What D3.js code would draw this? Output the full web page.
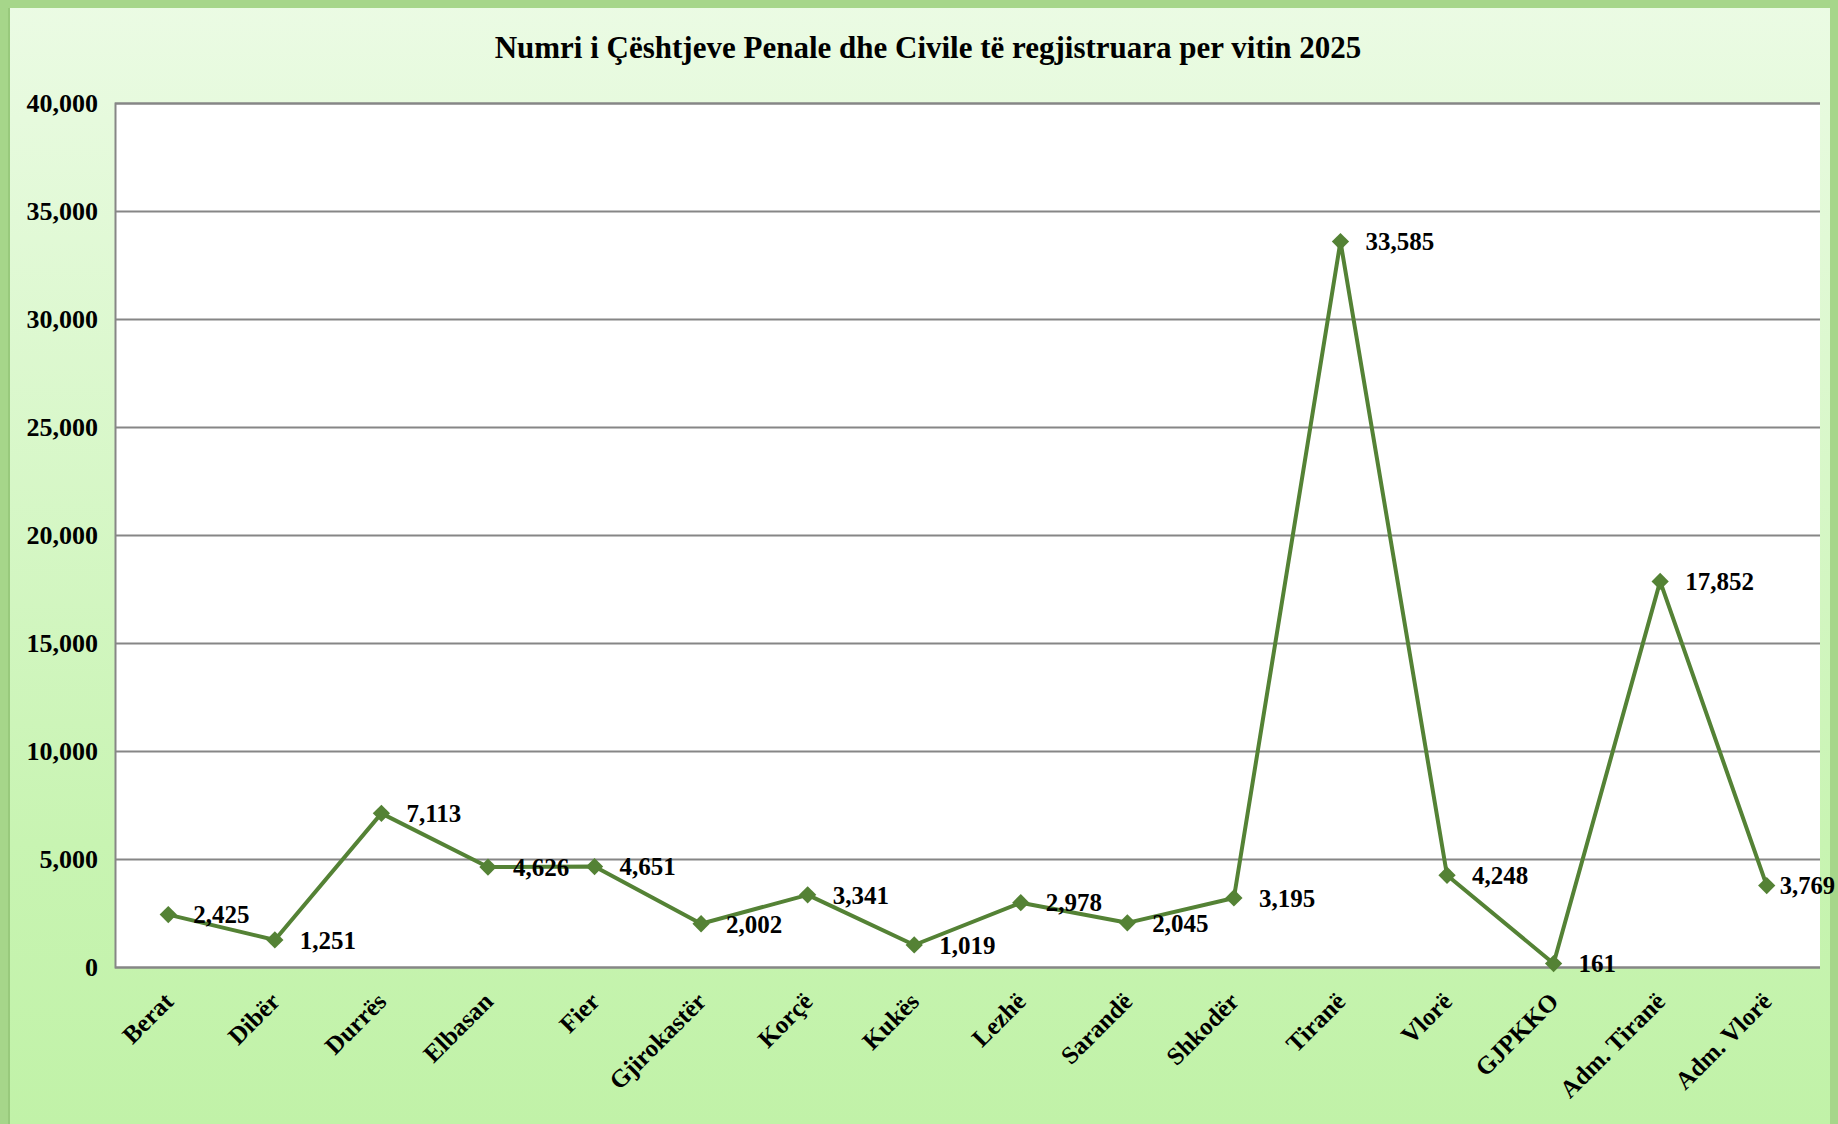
<!DOCTYPE html>
<html><head><meta charset="utf-8">
<script src="https://cdn.jsdelivr.net/npm/d3@7"></script>
<style>html,body{margin:0;padding:0;background:#fff;}svg{display:block;}</style>
</head><body>
<svg id="c" width="1838" height="1124"></svg>
<script>
const categories = ["Berat","Dibër","Durrës","Elbasan","Fier","Gjirokastër","Korçë","Kukës","Lezhë","Sarandë","Shkodër","Tiranë","Vlorë","GJPKKO","Adm. Tiranë","Adm. Vlorë"];
const values = [2425,1251,7113,4626,4651,2002,3341,1019,2978,2045,3195,33585,4248,161,17852,3769];
const yTicks = [0,5000,10000,15000,20000,25000,30000,35000,40000];
const title = "Numri i Çështjeve Penale dhe Civile të regjistruara per vitin 2025";

const W = 1838, H = 1124;
const m = {left:115, right:1820, top:103, bottom:967};
const svg = d3.select("#c");
const font = "'Liberation Serif', 'Times New Roman', serif";

const defs = svg.append("defs");
const g = defs.append("linearGradient").attr("id","bg").attr("x1",0).attr("y1",0).attr("x2",0).attr("y2",1);
g.append("stop").attr("offset","0").attr("stop-color","#ebfbe4");
g.append("stop").attr("offset","0.75").attr("stop-color","#c8f4b2");
g.append("stop").attr("offset","1").attr("stop-color","#c1f2a8");

svg.append("rect").attr("x",0).attr("y",0).attr("width",W).attr("height",H).attr("fill","url(#bg)");
svg.append("rect").attr("x",4).attr("y",4).attr("width",W-8).attr("height",H+10)
  .attr("fill","none").attr("stroke","#a6d68a").attr("stroke-width",8);
svg.append("rect").attr("x",8).attr("y",8).attr("width",2).attr("height",H)
  .attr("fill","#98c97c");

const x = d3.scalePoint().domain(categories).range([m.left, m.right]).padding(0.5);
const y = d3.scaleLinear().domain([0,40000]).range([m.bottom, m.top]);

svg.append("rect").attr("x",m.left).attr("y",m.top).attr("width",m.right-m.left).attr("height",m.bottom-m.top).attr("fill","#fff");

// gridlines
const yAxis = d3.axisLeft(y).tickValues(yTicks).tickSize(-(m.right-m.left)).tickFormat(d3.format(","));
const ya = svg.append("g").attr("transform",`translate(${m.left},0)`).call(yAxis);
ya.select(".domain").attr("stroke","#868686").attr("stroke-width",2);
ya.selectAll(".tick line").attr("stroke","#868686").attr("stroke-width",2);
ya.selectAll(".tick text").attr("x",-17).attr("font-family",font).attr("font-weight","bold")
  .attr("font-size","26px").attr("fill","#000");

// x axis labels
const xAxis = d3.axisBottom(x).tickSize(0);
const xa = svg.append("g").attr("transform",`translate(0,${m.bottom})`).call(xAxis);
xa.select(".domain").remove();
xa.selectAll(".tick text")
  .attr("font-family",font).attr("font-weight","bold").attr("font-size","25px").attr("fill","#000")
  .attr("text-anchor","end").attr("dy",0).attr("y",0)
  .attr("transform","translate(6,36) rotate(-45)");

// line
const line = d3.line().x((d,i)=>x(categories[i])).y(d=>y(d));
svg.append("path").datum(values).attr("d",line).attr("fill","none")
  .attr("stroke","#548235").attr("stroke-width",4).attr("stroke-linejoin","round");

// markers
svg.append("g").selectAll("path").data(values).join("path")
  .attr("d",d3.symbol(d3.symbolDiamond2, 190))
  .attr("transform",(d,i)=>`translate(${x(categories[i])},${y(d)})`)
  .attr("fill","#548235");

// labels
svg.append("g").selectAll("text").data(values).join("text")
  .attr("x",(d,i)=>x(categories[i])+25).attr("y",d=>y(d)).attr("dy","0.35em")
  .attr("font-family",font).attr("font-weight","bold").attr("font-size","25px").attr("fill","#000")
  .text(d=>d3.format(",")(d))
  .each(function(d,i){
    const w = this.getComputedTextLength();
    const x0 = x(categories[i]) + 25;
    if (x0 + w > W - 2) {
      d3.select(this).attr("x", x(categories[i]) + 13).attr("textLength", W - 3 - (x(categories[i]) + 13)).attr("lengthAdjust","spacingAndGlyphs");
    }
  });

svg.append("text").attr("x",928).attr("y",47).attr("dy","0.35em").attr("text-anchor","middle")
  .attr("font-family",font).attr("font-weight","bold").attr("font-size","31px").attr("fill","#000")
  .text(title);
</script>
</body></html>
